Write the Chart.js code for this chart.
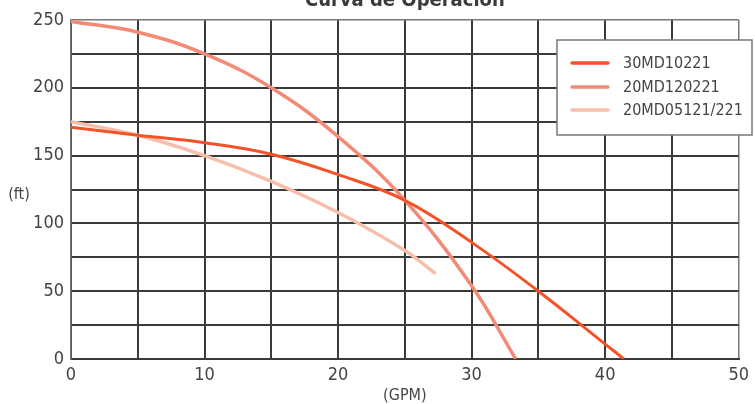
<!DOCTYPE html>
<html>
<head>
<meta charset="utf-8">
<script src="https://cdn.jsdelivr.net/npm/chart.js@4"></script>
<style>
html,body{margin:0;padding:0;background:#fff;}
#wrap{position:relative;width:755px;height:404px;}
</style>
</head>
<body>
<div id="wrap"><canvas id="c" width="755" height="404"></canvas></div>
<script>
const titleText = "Curva de Operación";
const xAxisLabel = "(GPM)";
const yAxisLabel = "(ft)";
const seriesNames = ["30MD10221", "20MD120221", "20MD05121/221"];
const seriesColors = ["#f4532a", "#f38a76", "#f5bfab"];

const flowA = [0, 5, 10, 15, 20, 25, 30, 35, 40, 41.4];
const headA = [171, 165, 159.5, 151, 136, 117, 86, 50, 11, 0];

const flowB = [0, 5, 10, 15, 20, 25, 30, 33.3];
const headB = [249, 241, 225, 200, 164, 117, 54, 0];

const flowC = [0, 5, 10, 15, 20, 25, 27.3];
const headC = [175, 165, 150, 131, 108, 80, 63];

const xTicks = [0, 10, 20, 30, 40, 50];
const yTicks = [0, 50, 100, 150, 200, 250];

const FONT = "'Liberation Sans Narrow', 'DejaVu Sans Condensed', 'Liberation Sans', sans-serif";
const toPts = (xs, ys) => xs.map((x, i) => ({x: x, y: ys[i]}));

const overlay = {
  id: 'overlay',
  afterDraw(chart) {
    const ctx = chart.ctx;
    const ca = chart.chartArea;
    ctx.save();
    ctx.fillStyle = '#3a3a3a';
    ctx.font = "bold 20px " + FONT;
    ctx.textAlign = 'center';
    ctx.textBaseline = 'alphabetic';
    ctx.fillText(titleText, (ca.left + ca.right) / 2, 6);
    ctx.font = "16px " + FONT;
    ctx.fillStyle = '#444';
    ctx.textBaseline = 'middle';
    ctx.fillText(yAxisLabel, 19, 195);
    ctx.fillText(xAxisLabel, (ca.left + ca.right) / 2, 396);
    const bx = 557, by = 40, bw = 195, bh = 95;
    ctx.fillStyle = '#fff';
    ctx.fillRect(bx, by, bw, bh);
    ctx.strokeStyle = '#777';
    ctx.lineWidth = 1.5;
    ctx.strokeRect(bx, by, bw, bh);
    ctx.font = "16px " + FONT;
    ctx.textAlign = 'left';
    const rows = [63, 87, 110];
    chart.data.datasets.forEach((ds, i) => {
      ctx.strokeStyle = ds.borderColor;
      ctx.lineWidth = 3.5;
      ctx.lineCap = 'round';
      ctx.beginPath();
      ctx.moveTo(572, rows[i]);
      ctx.lineTo(608, rows[i]);
      ctx.stroke();
      ctx.fillStyle = '#444';
      ctx.fillText(ds.label, 623, rows[i] + 1);
    });
    ctx.restore();
  }
};

new Chart(document.getElementById('c'), {
  type: 'line',
  data: {
    datasets: [
      {label: seriesNames[0], data: toPts(flowA, headA), borderColor: seriesColors[0], borderWidth: 3},
      {label: seriesNames[1], data: toPts(flowB, headB), borderColor: seriesColors[1], borderWidth: 3.5},
      {label: seriesNames[2], data: toPts(flowC, headC), borderColor: seriesColors[2], borderWidth: 3.5}
    ]
  },
  options: {
    responsive: false,
    animation: false,
    layout: {padding: {left: 0, top: 20, right: 16, bottom: 0}},
    elements: {
      point: {radius: 0},
      line: {tension: 0.4, fill: false, borderCapStyle: 'butt'}
    },
    plugins: {legend: {display: false}, tooltip: {enabled: false}, title: {display: false}},
    scales: {
      x: {
        type: 'linear', min: 0, max: 50,
        afterFit(s) { s.height = 45; },
        afterBuildTicks(s) { s.ticks = []; for (let v = 0; v <= 50; v += 5) s.ticks.push({value: v}); },
        ticks: {
          autoSkip: false, maxRotation: 0, padding: 6,
          color: '#444', font: {family: FONT, size: 18},
          callback: (v) => xTicks.includes(v) ? String(v) : ''
        },
        grid: {
          drawTicks: false,
          color: (c) => c.tick && c.tick.value === 50 ? '#777' : '#3a3a3a',
          lineWidth: (c) => c.tick && c.tick.value === 50 ? 1.5 : 2
        },
        border: {color: '#3a3a3a', width: 2}
      },
      y: {
        type: 'linear', min: 0, max: 250,
        afterFit(s) { s.width = 71; },
        afterBuildTicks(s) { s.ticks = []; for (let v = 0; v <= 250; v += 25) s.ticks.push({value: v}); },
        ticks: {
          autoSkip: false, padding: 7,
          color: '#444', font: {family: FONT, size: 18},
          callback: (v) => yTicks.includes(v) ? String(v) : ''
        },
        grid: {
          drawTicks: false,
          color: (c) => c.tick && c.tick.value === 250 ? '#777' : '#3a3a3a',
          lineWidth: (c) => c.tick && c.tick.value === 250 ? 1.5 : 2
        },
        border: {color: '#777', width: 1.5}
      }
    }
  },
  plugins: [overlay]
});
</script>
</body>
</html>
